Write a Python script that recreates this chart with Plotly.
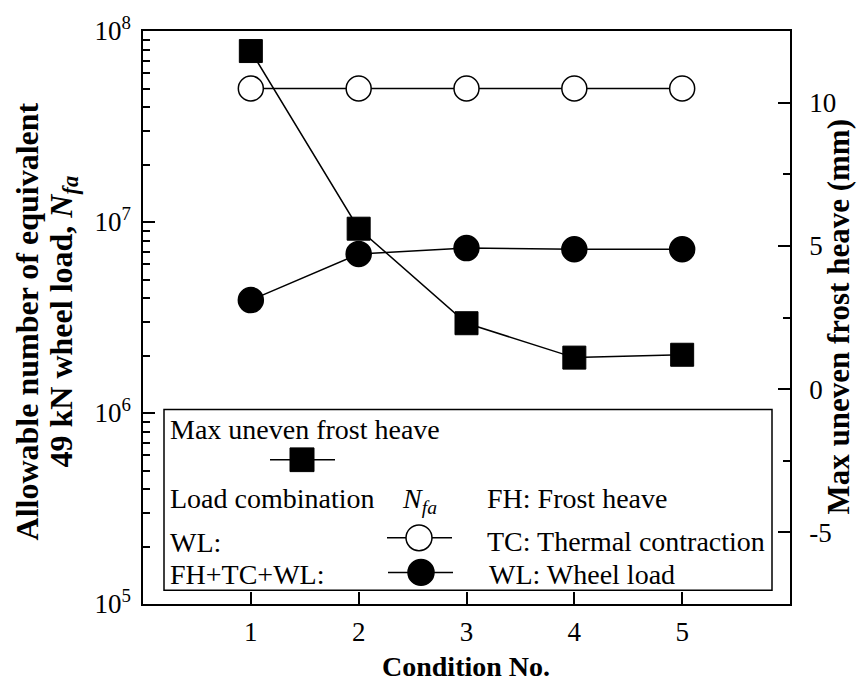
import plotly.graph_objects as go

# ---------------- data ----------------
conditions = [1, 2, 3, 4, 5]
nfa_wl = [5.0e7, 5.0e7, 5.0e7, 5.0e7, 5.0e7]          # WL only (open circles)
nfa_fh_tc_wl = [3.9e6, 6.8e6, 7.3e6, 7.2e6, 7.2e6]    # FH+TC+WL (filled circles)
frost_heave = [11.8, 5.6, 2.3, 1.1, 1.2]              # max uneven frost heave (mm)

x_tickvals = [1, 2, 3, 4, 5]
left_tickvals = [1e5, 1e6, 1e7, 1e8]
left_ticktext = ["10<sup>5</sup>", "10<sup>6</sup>", "10<sup>7</sup>", "10<sup>8</sup>"]
right_tickvals = [-5, 0, 5, 10]
right_ticktext = ["-5", "0", "5", "10"]
right_minor = [-2.5, 2.5, 7.5]

FONT = "Liberation Serif, Times New Roman, serif"
W, H = 858, 683
L, R, T, B = 143, 790, 24, 604


def px(x):
    return (x - L) / (R - L)


def py(y):
    return (B - y) / (B - T)


left_minor = [k * 10 ** e for e in (5, 6, 7) for k in range(2, 10)]

fig = go.Figure()
fig.add_trace(go.Scatter(
    x=conditions, y=nfa_wl, mode="lines+markers", yaxis="y",
    line=dict(color="black", width=1.5),
    marker=dict(symbol="circle", size=25, color="white", line=dict(color="black", width=1.5)),
))
fig.add_trace(go.Scatter(
    x=conditions, y=nfa_fh_tc_wl, mode="lines+markers", yaxis="y",
    line=dict(color="black", width=1.5),
    marker=dict(symbol="circle", size=25, color="black", line=dict(color="black", width=1.5)),
))
fig.add_trace(go.Scatter(
    x=conditions, y=frost_heave, mode="lines+markers", yaxis="y2",
    line=dict(color="black", width=1.5),
    marker=dict(symbol="square", size=23, color="black", line=dict(color="black", width=1)),
))

axis_common = dict(
    showline=True, linecolor="black", linewidth=1.5,
    ticks="inside", tickcolor="black", tickwidth=1.5, ticklen=12,
    showgrid=False, zeroline=False,
    tickfont=dict(family=FONT, size=27, color="black"),
)

fig.update_layout(
    width=W, height=H,
    margin=dict(l=L, r=W - R, t=T, b=H - B),
    paper_bgcolor="white", plot_bgcolor="white",
    showlegend=False,
    font=dict(family=FONT, size=27, color="black"),
    xaxis=dict(range=[0, 6], tickmode="array", tickvals=x_tickvals, mirror=True,
               ticklabelstandoff=3, **axis_common),
    yaxis=dict(type="log", range=[5, 8], tickmode="array", tickvals=left_tickvals,
               ticktext=left_ticktext, ticklabelstandoff=5,
               minor=dict(tickmode="array", tickvals=left_minor, ticks="inside",
                          ticklen=7, tickwidth=1.5, tickcolor="black", showgrid=False),
               **axis_common),
    yaxis2=dict(overlaying="y", side="right", anchor="x", range=[-7.5, 12.5],
                tickmode="array", tickvals=right_tickvals, ticktext=right_ticktext,
                ticklabelstandoff=12,
                minor=dict(tickmode="array", tickvals=right_minor, ticks="inside",
                           ticklen=7, tickwidth=1.5, tickcolor="black", showgrid=False),
                **axis_common),
)

shapes = []
annotations = []

# legend box
shapes.append(dict(type="rect", xref="paper", yref="paper", x0=px(164), x1=px(772),
                   y0=py(590), y1=py(407), line=dict(color="black", width=1.5),
                   fillcolor="white", layer="above"))


def sample(cx, cy, x0, x1, kind):
    shapes.append(dict(type="line", xref="paper", yref="paper", x0=px(x0), x1=px(x1),
                       y0=py(cy), y1=py(cy), line=dict(color="black", width=1.5), layer="above"))
    if kind == "square":
        s = 12
        shapes.append(dict(type="rect", xref="paper", yref="paper", x0=px(cx - s), x1=px(cx + s),
                           y0=py(cy + s), y1=py(cy - s), line=dict(color="black", width=1),
                           fillcolor="black", layer="above"))
    else:
        r = 13
        shapes.append(dict(type="circle", xref="paper", yref="paper", x0=px(cx - r), x1=px(cx + r),
                           y0=py(cy + r), y1=py(cy - r), line=dict(color="black", width=1.5),
                           fillcolor="white" if kind == "open" else "black", layer="above"))


sample(302, 458, 270, 335, "square")
sample(419, 537, 387, 452, "open")
sample(421, 572, 388, 453, "filled")


def text(x, y, s, size=28, anchor="left", angle=0, bold=False):
    if bold:
        s = "<b>" + s + "</b>"
    annotations.append(dict(xref="paper", yref="paper", x=px(x), y=py(y), text=s,
                            showarrow=False, xanchor=anchor, yanchor="middle", textangle=angle,
                            font=dict(family=FONT, size=size, color="black")))


text(168, 427, "Max uneven frost heave")
text(168, 497, "Load combination")
text(400, 499, "<i>N</i><sub><i>fa</i></sub>")
text(168, 542, "WL:")
text(168, 574, "FH+TC+WL:")
text(485, 497, "FH: Frost heave")
text(485, 541, "TC: Thermal contraction")
text(487, 574, "WL: Wheel load")

# axis titles
text(466, 667, "Condition No.", size=28, anchor="center", bold=True)
text(27, 318, "Allowable number of equivalent", size=32, anchor="center", angle=-90, bold=True)
text(63, 318, "49 kN wheel load, <i>N</i><sub><i>fa</i></sub>", size=32, anchor="center",
     angle=-90, bold=True)
text(838, 314, "Max uneven frost heave (mm)", size=31, anchor="center", angle=-90, bold=True)

fig.update_layout(shapes=shapes, annotations=annotations)
fig.write_html("out.html")
